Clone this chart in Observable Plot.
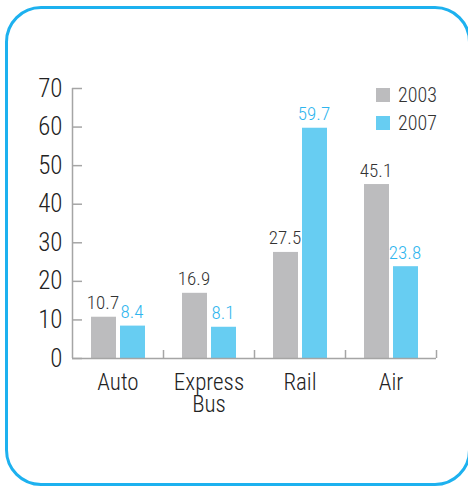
<!DOCTYPE html>
<html><head><meta charset="utf-8">
<script src="https://cdn.jsdelivr.net/npm/d3@7"></script>
<script src="https://cdn.jsdelivr.net/npm/@observablehq/plot@0.6"></script>
<style>
html,body{margin:0;padding:0;background:#fff;overflow:hidden;}
#wrap{position:relative;width:468px;height:487px;font-family:'Liberation Sans Narrow','Roboto Condensed',Roboto,sans-serif;font-weight:300;}
#box{position:absolute;left:5px;top:6px;width:466px;height:480px;box-sizing:border-box;border:3px solid #1db1ef;border-radius:36px;}
#chart{position:absolute;left:0;top:0;}
#chart svg text{font-weight:300;}
.leg{position:absolute;left:376px;height:16px;font-size:20px;color:#333;}
.leg span.sw{position:absolute;left:0;top:0px;width:14px;height:14px;}
.leg span.tx{position:absolute;left:22px;top:-4px;line-height:22px;white-space:nowrap;}
</style></head>
<body>
<div id="wrap"><div id="box"></div><div id="chart"></div><div id="legend"></div></div>
<script>
const categories = ["Auto", "Express\nBus", "Rail", "Air"];
const years = ["2003", "2007"];
const values2003 = [10.7, 16.9, 27.5, 45.1];
const values2007 = [8.4, 8.1, 59.7, 23.8];
const yTicks = [0, 10, 20, 30, 40, 50, 60, 70];
const colors = ["#bcbcbe", "#67cdf2"];
const labelColors = ["#333333", "#2fb5ee"];

const d2003 = categories.map((c, i) => ({category: c, value: values2003[i]}));
const d2007 = categories.map((c, i) => ({category: c, value: values2007[i]}));
const axisColor = "#a5a5a5";
const font = "'Liberation Sans Narrow','Roboto Condensed',Roboto,sans-serif";

const chart = Plot.plot({
  width: 468, height: 487,
  marginLeft: 72, marginRight: 32, marginTop: 88, marginBottom: 129,
  style: {fontFamily: font, background: "transparent", overflow: "visible"},
  x: {domain: categories, padding: 0, label: null},
  y: {domain: [0, 70], label: null},
  marks: [
    Plot.barY(d2003, {x: "category", y: "value", fill: colors[0], insetLeft: 19, insetRight: 47}),
    Plot.barY(d2007, {x: "category", y: "value", fill: colors[1], insetLeft: 48, insetRight: 18}),
    Plot.text(d2003, {x: "category", y: "value", text: d => d.value.toFixed(1), dx: -15, dy: -8, lineAnchor: "bottom", fill: labelColors[0], fontSize: 19}),
    Plot.text(d2007, {x: "category", y: "value", text: d => d.value.toFixed(1), dx: 14, dy: -8, lineAnchor: "bottom", fill: labelColors[1], fontSize: 19}),
    Plot.ruleY([0], {stroke: axisColor, strokeWidth: 1.5}),
    Plot.tickX([categories[0]], {x: d => d, dx: -45.5, stroke: axisColor, strokeWidth: 1.5}),
    Plot.tickX(categories, {x: d => d, dx: 45.5, insetTop: 262, stroke: axisColor, strokeWidth: 1.5}),
    Plot.axisY({ticks: yTicks, tickSize: 0, tickPadding: 10, fontSize: 25, fill: "#222", label: null}),
    Plot.axisY({ticks: yTicks, tickSize: -10, tickFormat: () => "", stroke: axisColor, strokeWidth: 1.5, label: null}),
    Plot.axisX({tickSize: 0, tickPadding: 16, fontSize: 23, lineHeight: 0.95, fill: "#222", label: null})
  ]
});
document.getElementById("chart").appendChild(chart);

const legend = document.getElementById("legend");
years.forEach((y, i) => {
  const row = document.createElement("div");
  row.className = "leg";
  row.style.top = (88 + i * 28) + "px";
  row.innerHTML = `<span class="sw" style="background:${colors[i]}"></span><span class="tx">${y}</span>`;
  legend.appendChild(row);
});
</script>
</body></html>
